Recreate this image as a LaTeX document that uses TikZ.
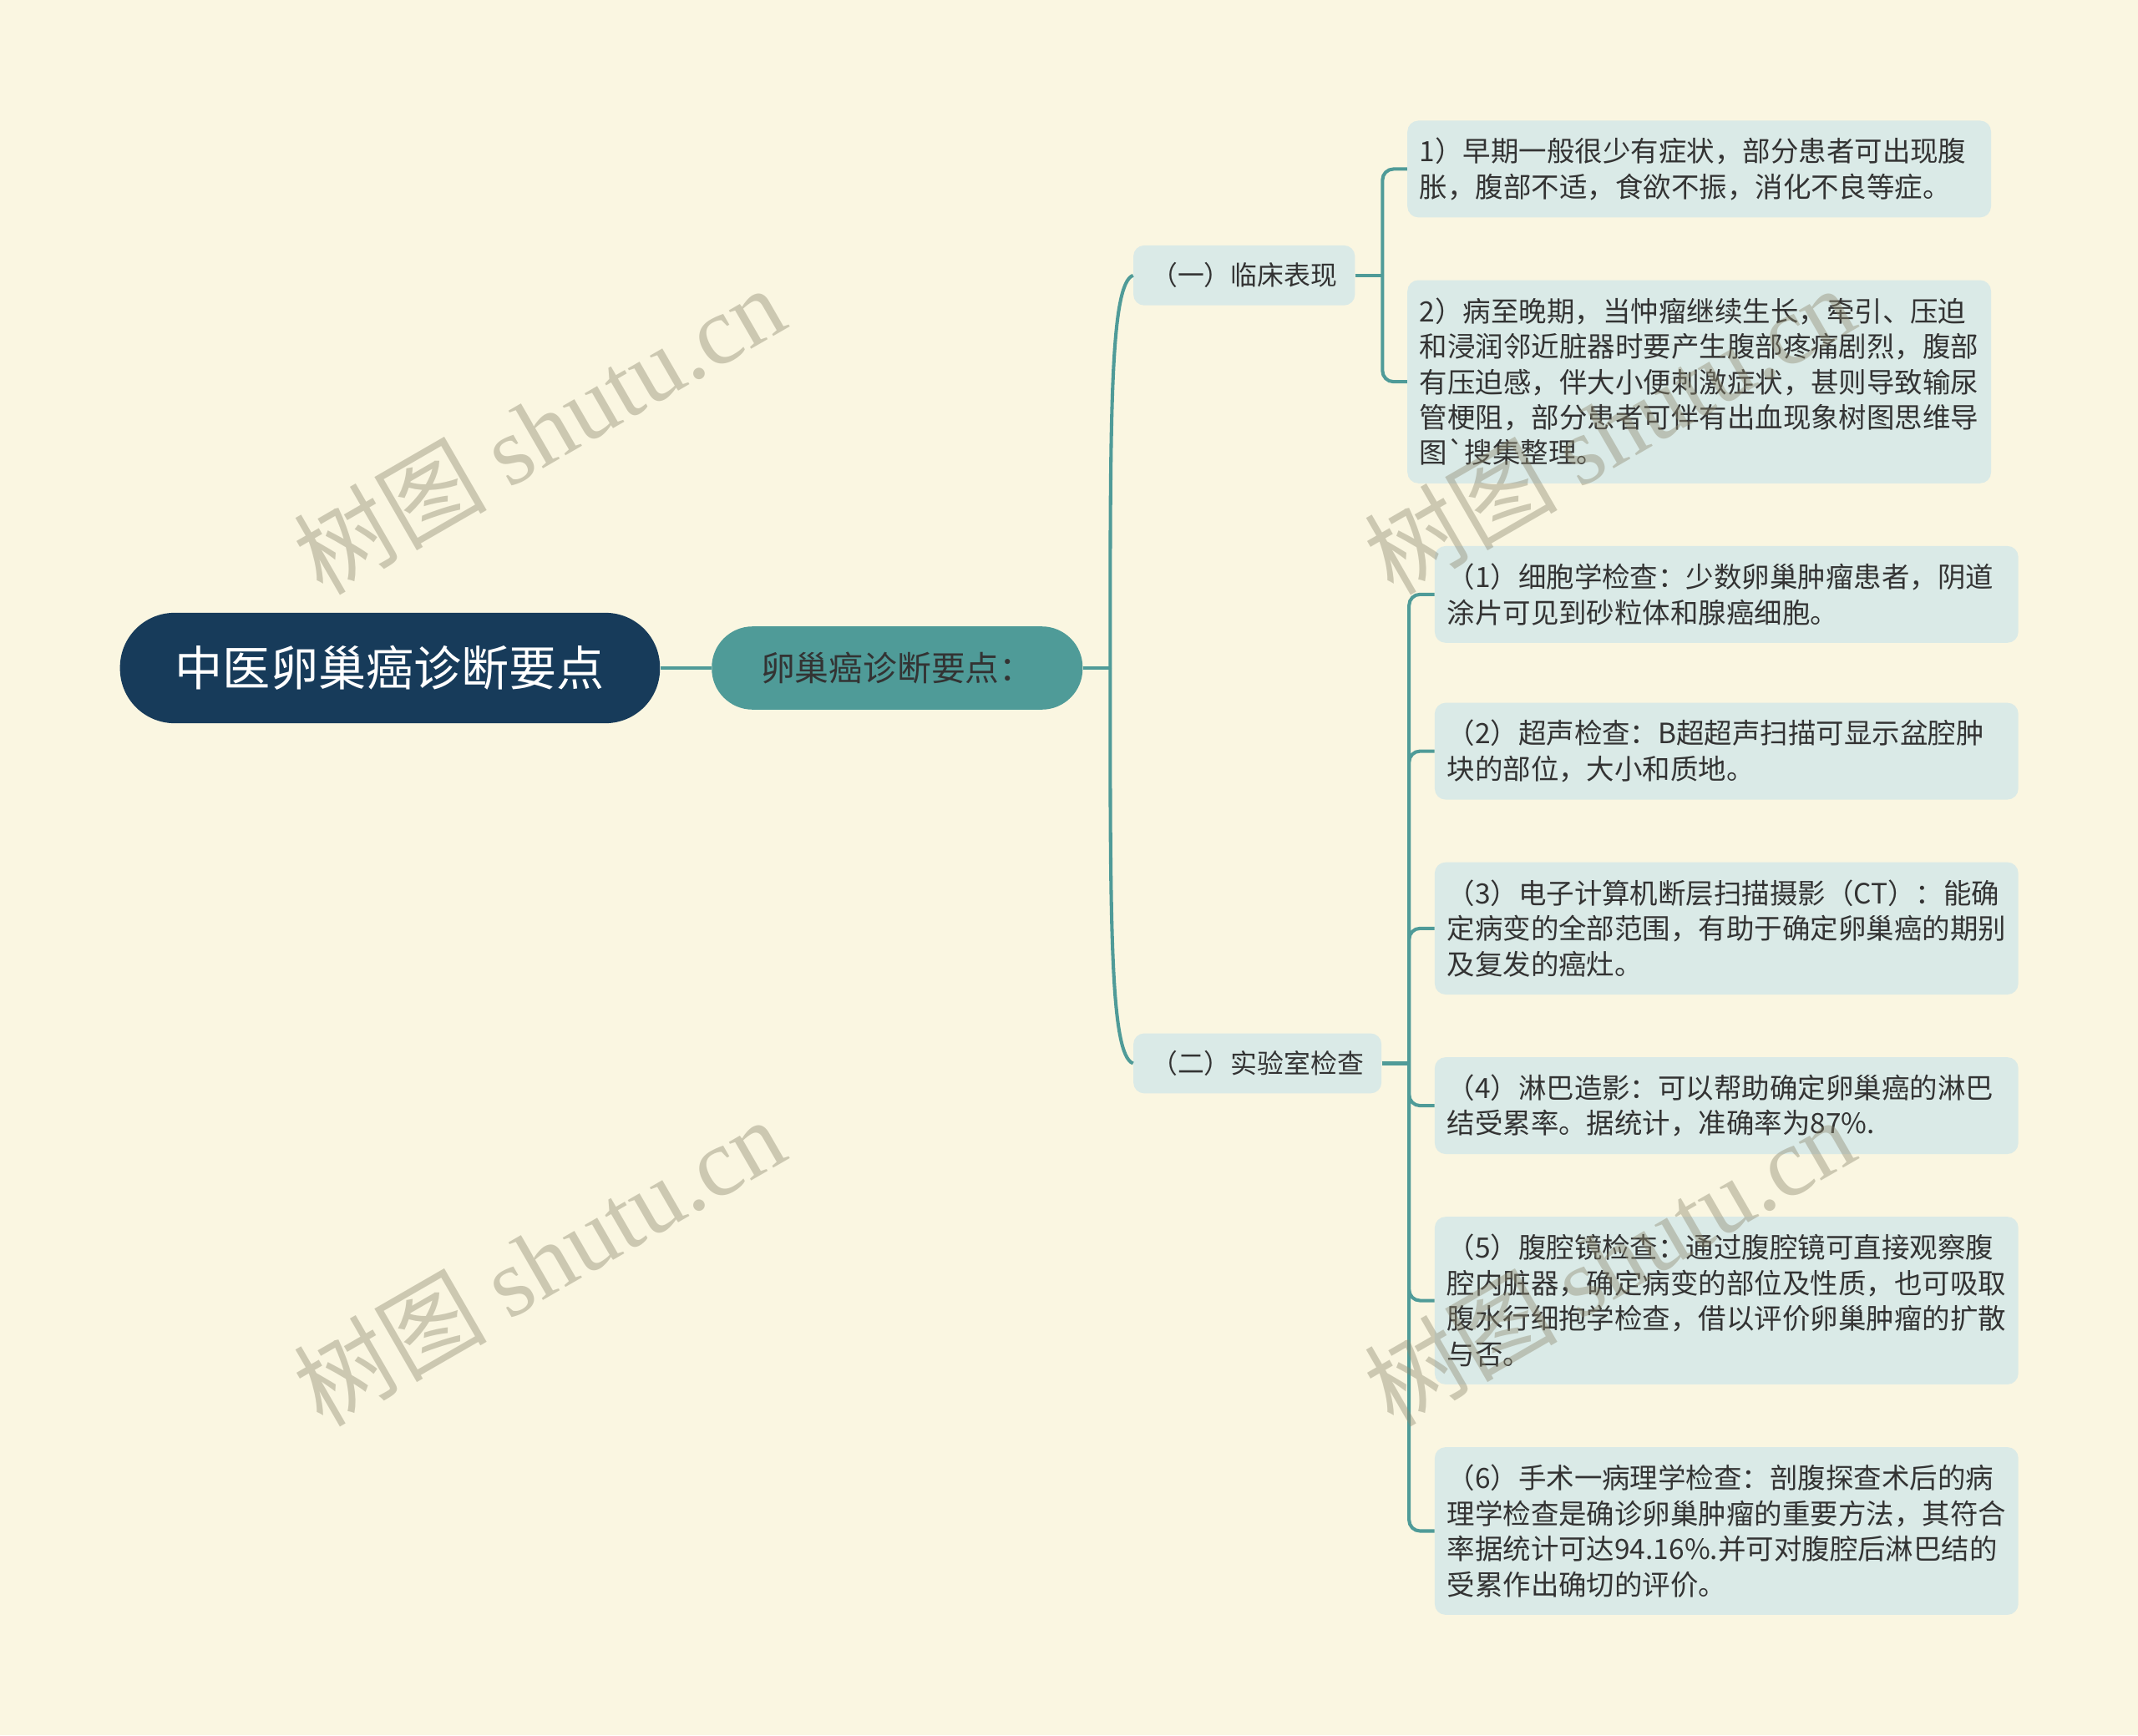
\documentclass[tikz,border=0pt]{standalone}
\usepackage{fontspec}
\usepackage{tikz}
\usetikzlibrary{calc}
\usepackage{xcolor}
\setmainfont{Noto Sans CJK SC}
\newfontfamily\markfont{Liberation Serif}
\definecolor{paper}{HTML}{FAF6E1}
\definecolor{navy}{HTML}{173B5A}
\definecolor{sea}{HTML}{4F9B98}
\definecolor{mist}{HTML}{DAEAE7}
\definecolor{ink}{HTML}{333333}
\definecolor{wmark}{HTML}{8E8A70}

\begin{document}
\begin{tikzpicture}
  [x=1pt, y=1pt,
   root/.style={fill=navy, text=white, rounded corners=40pt, inner sep=0pt,
     minimum width=396pt, minimum height=81pt,
     font=\fontsize{35}{40}\selectfont},
   topic/.style={fill=sea, text=ink, rounded corners=30pt, inner sep=0pt,
     minimum width=272pt, minimum height=61pt,
     font=\fontsize{25}{30}\selectfont},
   branch/.style={fill=mist, text=ink, rounded corners=8pt, anchor=west,
     inner xsep=13pt, inner ysep=0pt, minimum height=44pt,
     font=\fontsize{19.5}{24}\selectfont},
   leaf/.style={fill=mist, text=ink, rounded corners=8pt, anchor=west,
     text width=410pt, align=left, inner xsep=9pt, inner ysep=0pt,
     minimum height=#1*26pt+19pt,
     font=\fontsize{20.5}{26}\selectfont},
   link/.style={draw=sea, line width=2.5pt},
   fork/.style={draw=sea, line width=2.5pt, rounded corners=8pt},
   wm/.style={text=wmark, opacity=0.42, rotate=30,
     font=\fontsize{71}{71}\selectfont},
  ]

  \fill[paper] (0,0) rectangle (1568,-1273);
  \useasboundingbox (0,0) rectangle (1568,-1273);

  \node[root] (main) at (286,-490) {中医卵巢癌诊断要点};
  \node[topic] (key) at (658,-490) {卵巢癌诊断要点：};

  \node[branch] (clin) at (831,-202) {（一）临床表现};
  \node[branch] (lab) at (831,-780) {（二）实验室检查};

  \node[leaf=2] (c1) at (1032,-124) {1）早期一般很少有症状，部分患者可出现腹\\胀，腹部不适，食欲不振，消化不良等症。};
  \node[leaf=5] (c2) at (1032,-280) {2）病至晚期，当忡瘤继续生长，牵引、压迫\\和浸润邻近脏器时要产生腹部疼痛剧烈，腹部\\有压迫感，伴大小便刺激症状，甚则导致输尿\\管梗阻，部分患者可伴有出血现象树图思维导\\图\textasciigrave 搜集整理。};

  \node[leaf=2] (t1) at (1052,-436) {（1）细胞学检查：少数卵巢肿瘤患者，阴道\\涂片可见到砂粒体和腺癌细胞。};
  \node[leaf=2] (t2) at (1052,-551) {（2）超声检查：B超超声扫描可显示盆腔肿\\块的部位，大小和质地。};
  \node[leaf=3] (t3) at (1052,-681) {（3）电子计算机断层扫描摄影（CT）：能确\\定病变的全部范围，有助于确定卵巢癌的期别\\及复发的癌灶。};
  \node[leaf=2] (t4) at (1052,-811) {（4）淋巴造影：可以帮助确定卵巢癌的淋巴\\结受累率。据统计，准确率为87\%.};
  \node[leaf=4] (t5) at (1052,-954) {（5）腹腔镜检查：通过腹腔镜可直接观察腹\\腔内脏器，确定病变的部位及性质，也可吸取\\腹水行细抱学检查，借以评价卵巢肿瘤的扩散\\与否。};
  \node[leaf=4] (t6) at (1052,-1123) {（6）手术一病理学检查：剖腹探查术后的病\\理学检查是确诊卵巢肿瘤的重要方法，其符合\\率据统计可达94.16\%.并可对腹腔后淋巴结的\\受累作出确切的评价。};

  \draw[link] (main) -- (key);
  \draw[link] (key.east) -- ++(20,0) coordinate (j0);
  \draw[link] (j0) .. controls ($(j0|-clin.west)+(0,-100)$) and ($(j0|-clin.west)+(0,-6)$) .. (clin.west);
  \draw[link] (j0) .. controls ($(j0|-lab.west)+(0,100)$) and ($(j0|-lab.west)+(0,6)$) .. (lab.west);

  \draw[link] (clin.east) -- ++(20,0) coordinate (j1);
  \foreach \n in {c1,c2}
    \draw[fork] (j1) |- (\n.west);

  \draw[link] (lab.east) -- ++(20,0) coordinate (j2);
  \foreach \n in {t1,t2,t3,t4,t5,t6}
    \draw[fork] (j2) |- (\n.west);

  \node[wm] (w1) at (395,-315) {树图 {\markfont shutu.cn}};
  \node[wm] (w2) at (1180,-315) {树图 {\markfont shutu.cn}};
  \node[wm] (w3) at (395,-925) {树图 {\markfont shutu.cn}};
  \node[wm] (w4) at (1180,-925) {树图 {\markfont shutu.cn}};

\end{tikzpicture}
\end{document}
